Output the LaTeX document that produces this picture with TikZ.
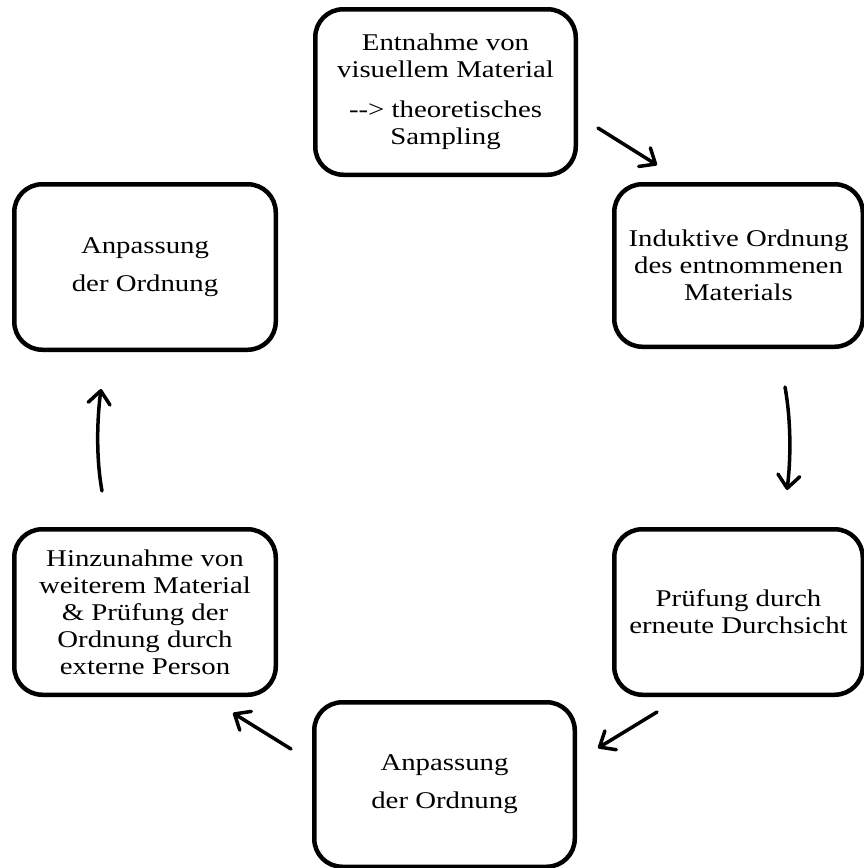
\documentclass[tikz,border=0pt]{standalone}
\usepackage{fontspec}
\setmainfont{Liberation Serif}[FakeStretch=1.2]
\usetikzlibrary{arrows.meta}
\begin{document}
\begin{tikzpicture}[x=1pt,y=1pt,
  stepbox/.style={draw, line width=4.5pt, rounded corners=28pt, align=center,
    font=\fontsize{24}{27}\selectfont, inner sep=0pt},
  flow/.style={line width=3.5pt, line cap=round,
    -{Straight Barb[length=13pt,width=22pt,line cap=round,line join=round]}}]
\useasboundingbox (0,0) rectangle (864,-868);
\node[stepbox, minimum width=260.5pt, minimum height=165.5pt] (b1) at (445.5,-92)
  {Entnahme von\\visuellem Material\\[13pt]-{}-> theoretisches\\Sampling};
\node[stepbox, minimum width=248.5pt, minimum height=162.5pt] (b2) at (738.5,-265.5)
  {Induktive Ordnung\\des entnommenen\\Materials};
\node[stepbox, minimum width=248.5pt, minimum height=165.5pt] (b3) at (738.5,-612)
  {Prüfung durch\\erneute Durchsicht};
\node[stepbox, minimum width=260.5pt, minimum height=164.5pt] (b4) at (444.5,-784.5)
  {Anpassung\\[11pt]der Ordnung};
\node[stepbox, minimum width=261.5pt, minimum height=165.5pt] (b5) at (145,-612)
  {Hinzunahme von\\weiterem Material\\\& Prüfung der\\Ordnung durch\\externe Person};
\node[stepbox, minimum width=261.5pt, minimum height=165.5pt] (b6) at (145,-267)
  {Anpassung\\[11pt]der Ordnung};
\coordinate (a1s) at (598,-128);
\coordinate (a1e) at (657,-165);
\coordinate (a2s) at (785,-387);
\coordinate (a2e) at (787,-490);
\coordinate (a3s) at (657,-712);
\coordinate (a3e) at (598,-748);
\coordinate (a4s) at (291,-749);
\coordinate (a4e) at (233,-713);
\coordinate (a5s) at (102,-491);
\coordinate (a5e) at (101,-389);
\draw[flow] (a1s) -- (a1e);
\draw[flow] (a2s) .. controls (791,-420) and (791,-458) .. (a2e);
\draw[flow] (a3s) -- (a3e);
\draw[flow] (a4s) -- (a4e);
\draw[flow] (a5s) .. controls (96,-458) and (97,-420) .. (a5e);
\end{tikzpicture}
\end{document}
